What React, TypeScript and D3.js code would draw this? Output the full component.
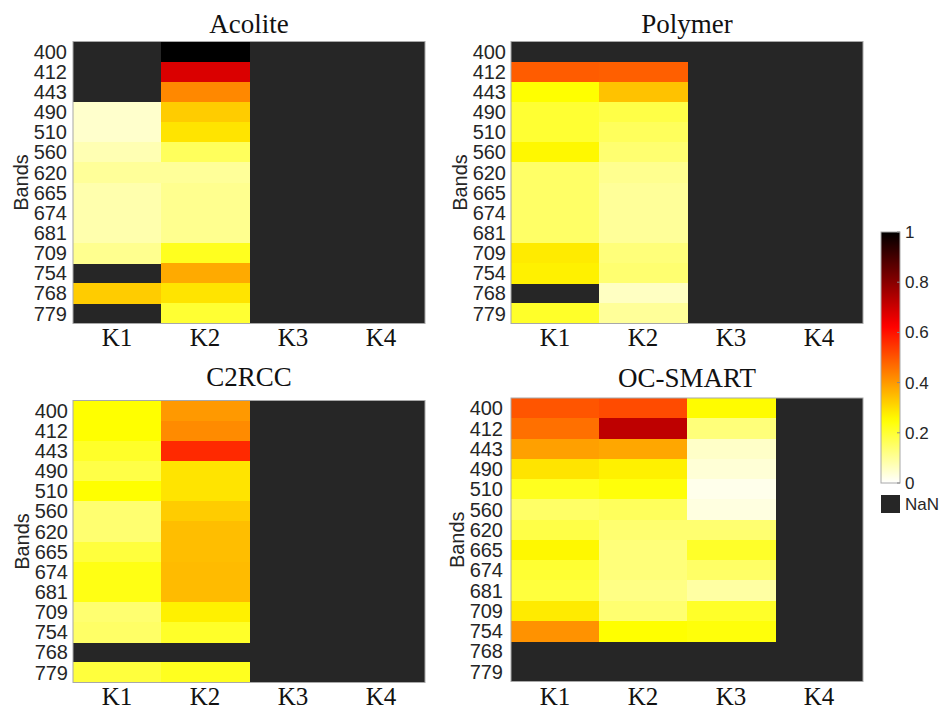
import React from "react";
import * as d3 from "d3";

const bands = ["400", "412", "443", "490", "510", "560", "620", "665", "674", "681", "709", "754", "768", "779"];
const clusters = ["K1", "K2", "K3", "K4"];
const N = null;

// rows = bands, columns = K1..K4 (null = NaN)
const acolite: (number | null)[][] = [
  [N, 1.0, N, N],
  [N, 0.68, N, N],
  [N, 0.425, N, N],
  [0.05, 0.325, N, N],
  [0.05, 0.29, N, N],
  [0.075, 0.16, N, N],
  [0.1, 0.1, N, N],
  [0.08, 0.11, N, N],
  [0.08, 0.11, N, N],
  [0.08, 0.11, N, N],
  [0.11, 0.22, N, N],
  [N, 0.375, N, N],
  [0.325, 0.29, N, N],
  [N, 0.2, N, N],
];

const polymer: (number | null)[][] = [
  [N, N, N, N],
  [0.49, 0.485, N, N],
  [0.25, 0.34, N, N],
  [0.2, 0.18, N, N],
  [0.2, 0.16, N, N],
  [0.26, 0.14, N, N],
  [0.15, 0.11, N, N],
  [0.15, 0.1, N, N],
  [0.15, 0.1, N, N],
  [0.15, 0.1, N, N],
  [0.28, 0.13, N, N],
  [0.27, 0.14, N, N],
  [N, 0.06, N, N],
  [0.21, 0.1, N, N],
];

const c2rcc: (number | null)[][] = [
  [0.25, 0.4, N, N],
  [0.25, 0.42, N, N],
  [0.21, 0.565, N, N],
  [0.18, 0.29, N, N],
  [0.25, 0.29, N, N],
  [0.14, 0.325, N, N],
  [0.14, 0.345, N, N],
  [0.19, 0.345, N, N],
  [0.23, 0.35, N, N],
  [0.23, 0.35, N, N],
  [0.14, 0.27, N, N],
  [0.15, 0.21, N, N],
  [N, N, N, N],
  [0.19, 0.22, N, N],
];

const ocsmart: (number | null)[][] = [
  [0.5, 0.515, 0.255, N],
  [0.46, 0.72, 0.13, N],
  [0.39, 0.38, 0.054, N],
  [0.29, 0.27, 0.04, N],
  [0.22, 0.24, 0.02, N],
  [0.15, 0.16, 0.03, N],
  [0.18, 0.14, 0.14, N],
  [0.26, 0.13, 0.21, N],
  [0.2, 0.13, 0.15, N],
  [0.19, 0.12, 0.09, N],
  [0.28, 0.14, 0.21, N],
  [0.41, 0.25, 0.24, N],
  [N, N, N, N],
  [N, N, N, N],
];

const colorbarTicks = [0, 0.2, 0.4, 0.6, 0.8, 1];

const NAN_COLOR = "#262626";
const FRAME = "#a8a8a8";

// flipped MATLAB "hot"
function hotR(v: number): string {
  const t = 1 - Math.max(0, Math.min(1, v));
  const c = (x: number) => Math.max(0, Math.min(1, x));
  const r = c(t / 0.375);
  const g = c((t - 0.375) / 0.375);
  const b = c((t - 0.75) / 0.25);
  return d3.rgb(r * 255, g * 255, b * 255).formatHex();
}

const colorScale = d3.scaleSequential(hotR).domain([0, 1]);

const panels = [
  { title: "Acolite", data: acolite, x0: 73, x1: 425, y0: 41.5, y1: 323.5, titleY: 33, kY: 346, bandsX: 21, tickX: 67 },
  { title: "Polymer", data: polymer, x0: 511, x1: 863, y0: 41.5, y1: 323.5, titleY: 33, kY: 346, bandsX: 460, tickX: 506 },
  { title: "C2RCC", data: c2rcc, x0: 73, x1: 425, y0: 400.5, y1: 682.5, titleY: 386, kY: 705, bandsX: 22, tickX: 68 },
  { title: "OC-SMART", data: ocsmart, x0: 511, x1: 863, y0: 398, y1: 681.5, titleY: 387, kY: 705, bandsX: 457, tickX: 503 },
];

const sans = "'Liberation Sans', Arial, sans-serif";
const serif = "'Liberation Serif', 'Times New Roman', serif";

function Panel({ p }: { p: typeof panels[number] }) {
  const x = d3.scaleBand<string>().domain(clusters).range([p.x0, p.x1]);
  const y = d3.scaleBand<string>().domain(bands).range([p.y0, p.y1]);
  return (
    <g>
      <text x={(p.x0 + p.x1) / 2} y={p.titleY} textAnchor="middle" fontFamily={serif} fontSize={27} fill="#111">
        {p.title}
      </text>
      <rect x={p.x0} y={p.y0} width={p.x1 - p.x0} height={p.y1 - p.y0} fill={NAN_COLOR} />
      <g shapeRendering="crispEdges">
        {bands.map((b, i) =>
          clusters.map((k, j) => {
            const v = p.data[i][j];
            if (v == null) return null;
            return (
              <rect
                key={b + k}
                x={x(k)}
                y={y(b)}
                width={x.bandwidth() + 0.6}
                height={y.bandwidth() + 0.6}
                fill={colorScale(v)}
              />
            );
          })
        )}
      </g>
      <rect x={p.x0} y={p.y0} width={p.x1 - p.x0} height={p.y1 - p.y0} fill="none" stroke={FRAME} strokeWidth={1} />
      {bands.map((b) => (
        <text key={b} x={p.tickX} y={(y(b) as number) + y.bandwidth() / 2} dy="0.36em" textAnchor="end" fontFamily={sans} fontSize={20} fill="#262626">
          {b}
        </text>
      ))}
      {clusters.map((k) => (
        <text key={k} x={(x(k) as number) + x.bandwidth() / 2} y={p.kY} textAnchor="middle" fontFamily={serif} fontSize={25} fill="#111">
          {k}
        </text>
      ))}
      <text
        transform={`translate(${p.bandsX},${(p.y0 + p.y1) / 2}) rotate(-90)`}
        textAnchor="middle"
        dy="0.35em"
        fontFamily={sans}
        fontSize={20}
        fill="#262626"
      >
        Bands
      </text>
    </g>
  );
}

function Colorbar() {
  const cx0 = 881, cx1 = 900, cy0 = 232, cy1 = 483;
  const s = d3.scaleLinear().domain([0, 1]).range([cy1, cy0]);
  const stops = d3.range(0, 1.0001, 0.02);
  return (
    <g>
      <defs>
        <linearGradient id="cbgrad" x1="0" y1="1" x2="0" y2="0">
          {stops.map((t) => (
            <stop key={t} offset={t} stopColor={colorScale(t)} />
          ))}
        </linearGradient>
      </defs>
      <rect x={cx0} y={cy0} width={cx1 - cx0} height={cy1 - cy0} fill="url(#cbgrad)" stroke={FRAME} strokeWidth={1} />
      {colorbarTicks.map((t) => (
        <g key={t}>
          <line x1={cx1 - 3} x2={cx1} y1={s(t)} y2={s(t)} stroke="#888" strokeWidth={1} />
          <text x={cx1 + 5} y={s(t)} dy="0.35em" fontFamily={sans} fontSize={17} fill="#262626">
            {String(t)}
          </text>
        </g>
      ))}
      <rect x={881} y={495} width={19} height={18} fill={NAN_COLOR} />
      <text x={905} y={504} dy="0.35em" fontFamily={sans} fontSize={17} fill="#262626">
        NaN
      </text>
    </g>
  );
}

export default function App() {
  return (
    <svg width={940} height={711} style={{ position: "absolute", left: 0, top: 0, background: "#fff" }}>
      <rect width={940} height={711} fill="#fff" />
      {panels.map((p) => (
        <Panel key={p.title} p={p} />
      ))}
      <Colorbar />
    </svg>
  );
}
